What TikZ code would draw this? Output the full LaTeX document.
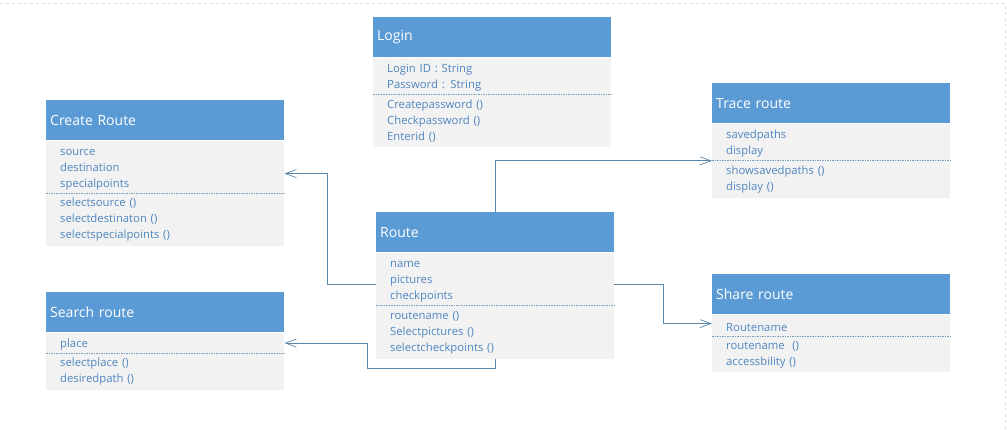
\documentclass[tikz,border=0pt]{standalone}
\usepackage{fontspec}
\setmainfont{Open Sans}
\usetikzlibrary{arrows.meta,positioning}
\definecolor{hdrblue}{HTML}{5B9BD5}
\definecolor{bodygray}{HTML}{F2F2F2}
\definecolor{itemblue}{HTML}{4F86BF}
\definecolor{linkblue}{HTML}{5B87A8}

\begin{document}
\begin{tikzpicture}[x=1pt,y=-1pt,
  title/.style={fill=hdrblue, text=white, anchor=north west, minimum height=40pt,
    text width=230pt, inner xsep=4pt, font=\fontsize{14}{16}\selectfont},
  part/.style={fill=bodygray, text=itemblue, below=0pt of #1, minimum width=238pt,
    text width=210pt, inner xsep=14pt, inner ysep=0pt, align=left,
    font=\fontsize{11.3}{16}\selectfont},
  attrs/.style={part=#1, execute at begin node={\rule{0pt}{12pt}}},
  sepline/.style={draw=linkblue!80, dashed, dash pattern=on 1.5pt off 1pt, line width=0.6pt},
  link/.style={draw=linkblue, line width=0.8pt, -{Straight Barb[length=11pt,width=8pt,line width=0.7pt]}}]
  \useasboundingbox (0,0) rectangle (1007,430);
  \draw[gray!25, dashed, line width=0.6pt] (0,3) -- (1005,3) -- (1005,430);

  % Login
  \node[title] (login) at (373,17) {Login};
  \node[attrs=login, minimum height=37pt] (loginA) {Login ID : String\\Password : String};
  \node[part=loginA, minimum height=52pt] (loginM) {Createpassword ()\\Checkpassword ()\\Enterid ()};
  \draw[sepline] (loginA.south west) -- (loginA.south east);

  % Create Route
  \node[title] (create) at (46,100) {Create Route};
  \node[attrs=create, minimum height=53pt] (createA) {source\\destination\\specialpoints};
  \node[part=createA, minimum height=52pt] (createM) {selectsource ()\\selectdestinaton ()\\selectspecialpoints ()};
  \draw[sepline] (createA.south west) -- (createA.south east);

  % Trace route
  \node[title] (trace) at (712,83) {Trace route};
  \node[attrs=trace, minimum height=37pt] (traceA) {savedpaths\\display};
  \node[part=traceA, minimum height=37pt] (traceM) {showsavedpaths ()\\display ()};
  \draw[sepline] (traceA.south west) -- (traceA.south east);

  % Route
  \node[title] (route) at (376,212) {Route};
  \node[attrs=route, minimum height=53pt] (routeA) {name\\pictures\\checkpoints};
  \node[part=routeA, minimum height=53pt] (routeM) {routename ()\\Selectpictures ()\\selectcheckpoints ()};
  \draw[sepline] (routeA.south west) -- (routeA.south east);

  % Share route
  \node[title] (share) at (712,274) {Share route};
  \node[attrs=share, minimum height=22pt] (shareA) {Routename};
  \node[part=shareA, minimum height=35pt] (shareM) {routename~ ()\\accessbility ()};
  \draw[sepline] (shareA.south west) -- (shareA.south east);

  % Search route
  \node[title] (search) at (46,292) {Search route};
  \node[attrs=search, minimum height=21pt] (searchA) {place};
  \node[part=searchA, minimum height=36pt] (searchM) {selectplace ()\\desiredpath ()};
  \draw[sepline] (searchA.south west) -- (searchA.south east);

  % connectors
  \draw[link] ([yshift=-5.5pt]routeA.west) -- ++(-49,0) |- ([yshift=-6.5pt]createA.east);
  \draw[link] (routeM.south) -- ++(0,9) -- ++(-128,0) |- (searchA.east);
  \draw[link] (route.north) |- (traceA.south west);
  \draw[link] ([yshift=-5.5pt]routeA.east) -- ++(49,0) |- ([yshift=2pt]shareA.west);
\end{tikzpicture}
\end{document}
